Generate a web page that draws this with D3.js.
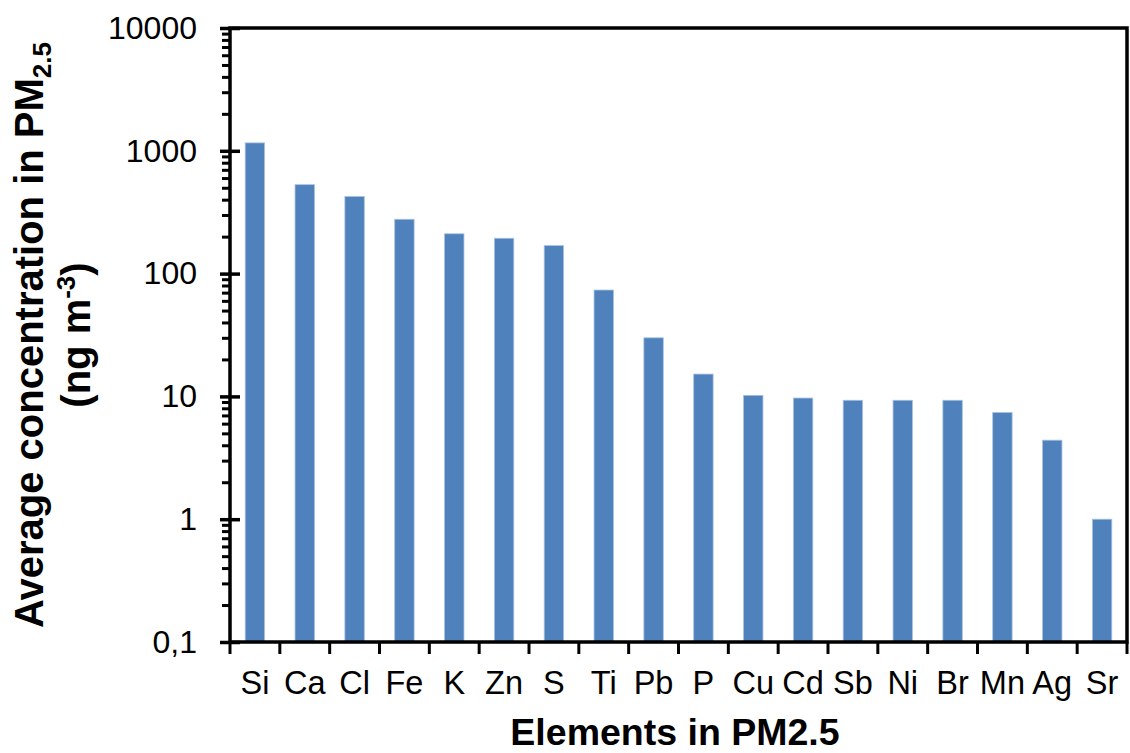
<!DOCTYPE html>
<html>
<head>
<meta charset="utf-8">
<script src="https://cdn.jsdelivr.net/npm/d3@7"></script>
<style>
  html, body { margin: 0; padding: 0; background: #fff; }
  svg { display: block; font-family: "Liberation Sans", Arial, sans-serif; }
</style>
</head>
<body>
<svg id="chart" width="1130" height="753"></svg>
<script>
// Elements measured in PM2.5 and their average concentrations (ng m-3)
const elements = ["Si","Ca","Cl","Fe","K","Zn","S","Ti","Pb","P","Cu","Cd","Sb","Ni","Br","Mn","Ag","Sr"];
const concentrations = [1160, 530, 425, 277, 211, 194, 169, 73.5, 30, 15.2, 10.2, 9.7, 9.3, 9.3, 9.3, 7.4, 4.4, 1.0];

// Log-axis ticks and their labels (decimal comma)
const yTickValues = [0.1, 1, 10, 100, 1000, 10000];
const yTickLabels = ["0,1", "1", "10", "100", "1000", "10000"];

const svg = d3.select("#chart");
const plotLeft = 230, plotRight = 1127, plotTop = 28, plotBottom = 642;

const x = d3.scaleBand()
  .domain(elements)
  .range([plotLeft, plotRight])
  .paddingInner(0.61)
  .paddingOuter(0.305);

const y = d3.scaleLog()
  .domain([0.1, 10000])
  .range([plotBottom, plotTop]);

// Bars
svg.append("g")
  .selectAll("rect")
  .data(elements)
  .join("rect")
  .attr("x", d => x(d))
  .attr("width", x.bandwidth())
  .attr("y", (d, i) => y(concentrations[i]))
  .attr("height", (d, i) => plotBottom - y(concentrations[i]))
  .attr("fill", "#4F81BD")
  .attr("stroke", "#a9c2e2")
  .attr("stroke-width", 0.8);

// Minor ticks (2..9 within each decade)
const minorTicks = [];
for (let e = -1; e < 4; e++) {
  for (let m = 2; m <= 9; m++) minorTicks.push(m * Math.pow(10, e));
}
svg.append("g")
  .attr("transform", `translate(${plotLeft},0)`)
  .call(d3.axisLeft(y).tickValues(minorTicks).tickSize(8).tickFormat(""))
  .call(g => g.select(".domain").remove())
  .call(g => g.selectAll(".tick line").attr("stroke", "#000").attr("stroke-width", 3));

// Major ticks crossing the axis, with labels
svg.append("g")
  .attr("transform", `translate(${plotLeft},0)`)
  .call(d3.axisLeft(y).tickValues(yTickValues).tickSize(10).tickPadding(23)
    .tickFormat((d, i) => yTickLabels[i]))
  .call(g => g.select(".domain").remove())
  .call(g => g.selectAll(".tick line").attr("x1", 10).attr("x2", -10)
    .attr("stroke", "#000").attr("stroke-width", 3.5))
  .call(g => g.selectAll(".tick text")
    .attr("font-family", "'Liberation Sans', Arial, sans-serif")
    .attr("font-size", 32).attr("fill", "#000"));

// Category boundary ticks below the x axis
const boundaries = d3.range(elements.length + 1).map(i => plotLeft + i * x.step());
svg.append("g")
  .selectAll("line")
  .data(boundaries)
  .join("line")
  .attr("x1", d => d).attr("x2", d => d)
  .attr("y1", plotBottom).attr("y2", plotBottom + 12)
  .attr("stroke", "#000").attr("stroke-width", 3);

// Category labels
svg.append("g")
  .selectAll("text")
  .data(elements)
  .join("text")
  .attr("x", d => x(d) + x.bandwidth() / 2)
  .attr("y", 694)
  .attr("text-anchor", "middle")
  .attr("font-size", 32.5)
  .attr("fill", "#000")
  .text(d => d);

// Plot frame: axes plus top and right edges
svg.append("path")
  .attr("d", `M${plotLeft},${plotTop}H${plotRight}V${plotBottom}H${plotLeft}Z`)
  .attr("fill", "none")
  .attr("stroke", "#000")
  .attr("stroke-width", 3.5);

// Y axis title (two lines, rotated)
const yTitle = svg.append("g")
  .attr("transform", `translate(0,${(plotTop + plotBottom) / 2}) rotate(-90)`)
  .attr("font-weight", "bold")
  .attr("font-size", 40)
  .attr("fill", "#000");

const l1 = yTitle.append("text").attr("x", 0).attr("y", 43).attr("text-anchor", "middle");
l1.append("tspan").text("Average concentration in PM");
l1.append("tspan").attr("font-size", 26).attr("dy", 8).text("2.5");

const l2 = yTitle.append("text").attr("x", 0).attr("y", 90).attr("text-anchor", "middle");
l2.append("tspan").text("(ng m");
l2.append("tspan").attr("font-size", 26).attr("dy", -15).text("-3");
l2.append("tspan").attr("dy", 15).text(")");

// X axis title
svg.append("text")
  .attr("x", 675)
  .attr("y", 745)
  .attr("text-anchor", "middle")
  .attr("font-weight", "bold")
  .attr("font-size", 37.5)
  .attr("fill", "#000")
  .text("Elements in PM2.5");
</script>
</body>
</html>
